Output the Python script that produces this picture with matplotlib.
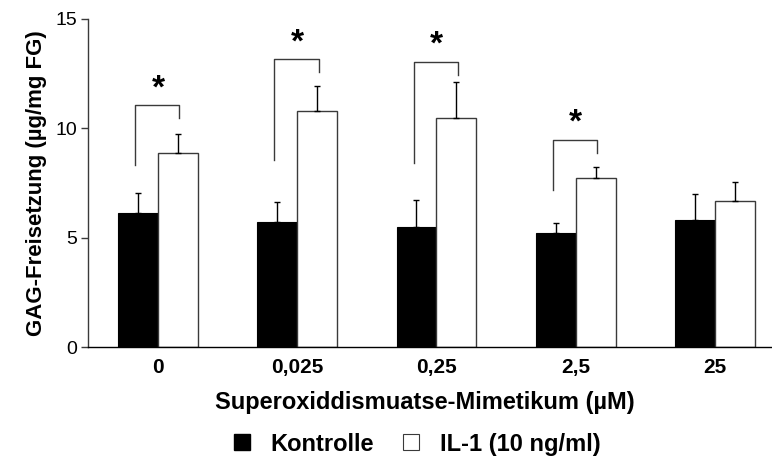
import matplotlib
matplotlib.use("Agg")
import matplotlib.pyplot as plt
from matplotlib.lines import Line2D
import numpy as np

plt.rcParams['font.family'] = ['Liberation Sans', 'DejaVu Sans']

# Data
concentrations = ["0", "0,025", "0,25", "2,5", "25"]
kontrolle_mean = [6.12, 5.74, 5.51, 5.23, 5.81]
kontrolle_err = [0.94, 0.88, 1.20, 0.46, 1.19]
il1_mean = [8.87, 10.79, 10.48, 7.74, 6.68]
il1_err = [0.86, 1.16, 1.62, 0.48, 0.85]

# Significance brackets: bracket level, left/right leg ends (None = no bracket)
sig_level = [11.05, 13.15, 13.04, 9.48, None]
sig_left_end = [8.32, 8.55, 8.43, 7.18, None]
sig_right_end = [10.46, 12.58, 12.45, 8.89, None]

line_col = "#3a3a3a"

fig = plt.figure(figsize=(7.72, 4.61), dpi=100)
ax = fig.add_axes([88 / 772, 1 - 347.3 / 461, 1 - 88 / 772, (347.3 - 19) / 461])

x = np.arange(len(concentrations))
w = 0.287

ax.bar(x - w / 2, kontrolle_mean, width=w, color="black", edgecolor="black", linewidth=0.8, zorder=2)
ax.bar(x + w / 2, il1_mean, width=w, color="white", edgecolor=line_col, linewidth=1.0, zorder=2)

zeros = np.zeros(len(x))
ax.errorbar(x - w / 2, kontrolle_mean, yerr=[zeros, kontrolle_err], fmt="none",
            ecolor="black", elinewidth=1.0, capsize=2.0, capthick=1.0, zorder=3)
ax.errorbar(x + w / 2, il1_mean, yerr=[zeros, il1_err], fmt="none",
            ecolor="black", elinewidth=1.0, capsize=2.0, capthick=1.0, zorder=3)

for i, lvl in enumerate(sig_level):
    if lvl is None:
        continue
    xl = x[i] - w / 2 - 0.02
    xr = x[i] + w / 2 + 0.01
    ax.plot([xl, xl, xr, xr], [sig_left_end[i], lvl, lvl, sig_right_end[i]],
            color=line_col, linewidth=1.0, zorder=3)
    ax.text(x[i], lvl + 0.05, "*", ha="center", va="bottom",
            fontsize=24, fontweight="bold")

ax.set_xlim(-0.503, 4.41)
ax.set_ylim(0, 15)
ax.set_yticks([0, 5, 10, 15])
ax.set_xticks(x)
ax.set_xticklabels(concentrations, fontsize=15, fontweight="bold")
ax.tick_params(axis="x", length=0, pad=8)
ax.tick_params(axis="y", length=5, width=1, color=line_col, labelsize=14, pad=3)

for s in ["top", "right"]:
    ax.spines[s].set_visible(False)
ax.spines["left"].set_color(line_col)
ax.spines["left"].set_linewidth(1.0)
ax.spines["bottom"].set_color("black")
ax.spines["bottom"].set_linewidth(1.0)

ax.set_ylabel("GAG-Freisetzung (µg/mg FG)", fontsize=16, fontweight="bold", labelpad=6)
fig.text(425 / 772, 1 - 402 / 461, "Superoxiddismuatse-Mimetikum (µM)",
         ha="center", va="center", fontsize=17, fontweight="bold")

handles = [
    Line2D([], [], linestyle="none", marker="s", markersize=12,
           markerfacecolor="black", markeredgecolor="black"),
    Line2D([], [], linestyle="none", marker="s", markersize=12,
           markerfacecolor="white", markeredgecolor=line_col, markeredgewidth=0.8),
]
fig.legend(handles, ["Kontrolle", "IL-1 (10 ng/ml)"], loc="center",
           bbox_to_anchor=(415 / 772, 1 - 444 / 461), ncol=2, frameon=False,
           prop={"weight": "bold", "size": 17}, handletextpad=0.7,
           columnspacing=1.1, handlelength=1.0)

fig.savefig("out.png", dpi=100)
